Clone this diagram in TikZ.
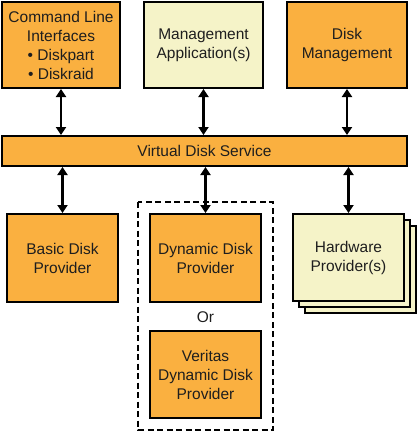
\documentclass[tikz,border=0pt]{standalone}
\usepackage{fontspec}
\setmainfont{Liberation Sans}
\usepackage{tikz}
\usetikzlibrary{arrows.meta}
\definecolor{vdsorange}{RGB}{250,176,64}
\definecolor{vdsyellow}{RGB}{245,243,200}
\definecolor{vdstext}{RGB}{30,30,30}

\begin{document}
\begin{tikzpicture}[x=1pt, y=-1pt,
		box/.style={draw=black, line width=2pt, align=center, inner sep=0pt,
			text=vdstext, font=\fontsize{15.5}{19}\selectfont},
		orangebox/.style={box, fill=vdsorange},
		yellowbox/.style={box, fill=vdsyellow},
		link/.style={black, line width=2.2pt, {Triangle[width=10pt,length=8pt]}-{Triangle[width=10pt,length=8pt]}}]
		
		\useasboundingbox (0,0) rectangle (417,432);
		
		% top row
		\node[orangebox, minimum width=118, minimum height=86] (cli) at (61,45)
			{Command Line\\Interfaces\\• Diskpart\\• Diskraid};
		\node[yellowbox, minimum width=119, minimum height=86] (mgmt) at (203.5,45)
			{Management\\Application(s)};
		\node[orangebox, minimum width=120, minimum height=86] (dm) at (347,45)
			{Disk\\Management};
		
		% service bar
		\node[orangebox, minimum width=405, minimum height=30] (vds) at (204.5,151)
			{Virtual Disk Service};
		
		% providers
		\node[orangebox, minimum width=111, minimum height=88] (basic) at (62.5,258)
			{Basic Disk\\Provider};
		
		\draw[black, line width=2pt, dash pattern=on 6pt off 3.5pt] (138,202) rectangle (273,430);
		\node[orangebox, minimum width=111, minimum height=88] (dyn) at (205.5,258)
			{Dynamic Disk\\Provider};
		\node[text=vdstext, font=\fontsize{15.5}{19}\selectfont] (or) at (205.5,317) {Or};
		\node[orangebox, minimum width=111, minimum height=87] (ver) at (205.5,374.5)
			{Veritas\\Dynamic Disk\\Provider};
		
		% stacked hardware boxes, back to front
		\node[yellowbox, minimum width=111, minimum height=87] (hw3) at (360.5,269.5) {};
		\node[yellowbox, minimum width=111, minimum height=87] (hw2) at (354.5,263.5) {};
		\node[yellowbox, minimum width=111, minimum height=87] (hw) at (348.5,257.5)
			{Hardware\\Provider(s)};
		
		% connectors
		\begin{scope}[link]
			\draw (cli.south) -- (cli.south |- vds.north);
			\draw (mgmt.south) -- (mgmt.south |- vds.north);
			\draw (dm.south) -- (dm.south |- vds.north);
			\draw (vds.south -| basic.north) -- (basic.north);
			\draw (vds.south -| dyn.north) -- (dyn.north);
			\draw (vds.south -| hw.north) -- (hw.north);
		\end{scope}
		
	\end{tikzpicture}
\end{document}
